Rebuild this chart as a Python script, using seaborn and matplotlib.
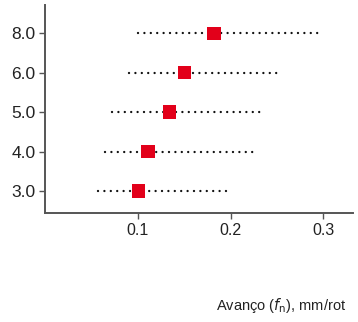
import numpy as np
import pandas as pd
import matplotlib
matplotlib.use("Agg")
import matplotlib.pyplot as plt
import seaborn as sns

# categorias (eje y) y valores
categorias = ["3.0", "4.0", "5.0", "6.0", "8.0"]
avance_min = [0.057, 0.065, 0.072, 0.090, 0.100]
avance_max = [0.201, 0.229, 0.237, 0.254, 0.300]
avance_opt = [0.101, 0.111, 0.134, 0.150, 0.182]
xticks = [0.1, 0.2, 0.3]

df = pd.DataFrame({"cat": categorias, "pos": np.arange(len(categorias)),
                   "fmin": avance_min, "fmax": avance_max, "fopt": avance_opt})

sns.set_style("ticks")
plt.rcParams["font.family"] = ["Liberation Sans", "DejaVu Sans"]

fig = plt.figure(figsize=(3.58, 3.22), dpi=100)
ax = fig.add_axes([0.126, 0.338, 0.86, 0.646])

# rangos punteados (puntos redondos)
lineas = ax.hlines(df["pos"], df["fmin"], df["fmax"], colors="#111111",
                   linewidth=1.7, linestyles=(0, (0.01, 2.7)), zorder=1)
lineas.set_capstyle("round")

# marcadores
sns.scatterplot(data=df, x="fopt", y="pos", marker="s", s=92,
                color="#e2001a", edgecolor="none", ax=ax, zorder=3)

ax.set_xlim(0, 0.332)
ax.set_ylim(-0.56, 4.71)
ax.set_xticks(xticks)
ax.set_xticklabels([f"{t:.1f}" for t in xticks], fontsize=11.5, color="#222222")
ax.set_yticks(df["pos"])
ax.set_yticklabels(categorias, fontsize=12.5, color="#222222")
ax.set_xlabel("")
ax.set_ylabel("")
ax.tick_params(axis="both", length=4, width=1, color="#555555", pad=3)

sns.despine(ax=ax)
for s in ["left", "bottom"]:
    ax.spines[s].set_color("#555555")
    ax.spines[s].set_linewidth(1.4)

fig.text(0.603, 0.038, r"Avanço ($f_\mathrm{n}$), mm/rot", fontsize=10.5,
         color="#222222", ha="left", va="baseline")

fig.savefig("out.png", dpi=100)
